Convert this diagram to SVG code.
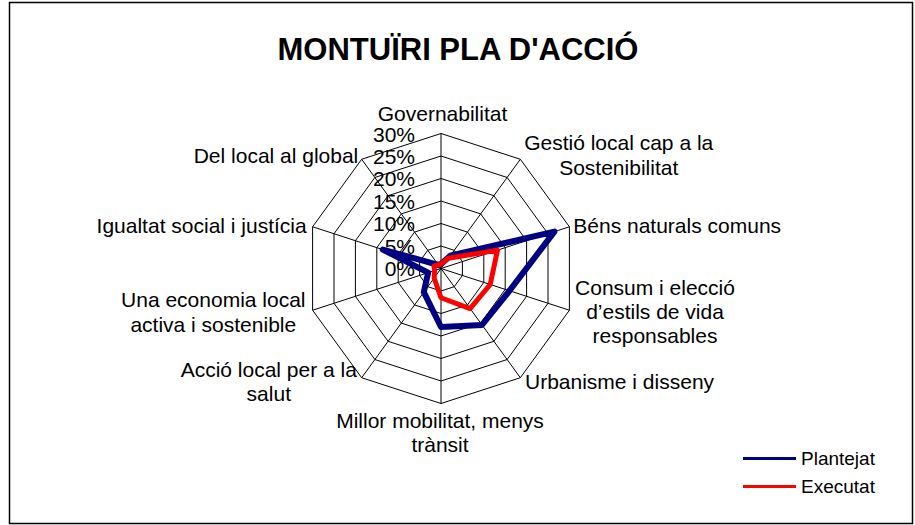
<svg xmlns="http://www.w3.org/2000/svg" width="915" height="525" viewBox="0 0 915 525">
<style>
text{font-family:"Liberation Sans",Arial,sans-serif;fill:#000}
.lbl{font-size:21px}
.pct{font-size:21px;text-anchor:end}
.mid{text-anchor:middle}
.end{text-anchor:end}
.grid{fill:none;stroke:#000;stroke-width:1}
.ser{fill:none;stroke-linejoin:round;stroke-linecap:round}
.leg{font-size:19px}
</style>
<rect x="9.5" y="2.5" width="903" height="521" fill="#fff" stroke="#000" stroke-width="1.5"/>
<text x="458" y="60" class="mid" style="font-size:31px;font-weight:bold">MONTUÏRI PLA D'ACCIÓ</text>
<g id="grid" class="grid">
<polygon points="441,246 454.23,250.3 462.4,261.55 462.4,275.45 454.23,286.7 441,291 427.78,286.7 419.6,275.45 419.6,261.55 427.78,250.3"/>
<polygon points="441,223.5 467.45,232.09 483.8,254.59 483.8,282.41 467.45,304.91 441,313.5 414.55,304.91 398.2,282.41 398.2,254.59 414.55,232.09"/>
<polygon points="441,201 480.68,213.89 505.2,247.64 505.2,289.36 480.68,323.11 441,336 401.32,323.11 376.8,289.36 376.8,247.64 401.32,213.89"/>
<polygon points="441,178.5 493.9,195.69 526.6,240.69 526.6,296.31 493.9,341.31 441,358.5 388.1,341.31 355.4,296.31 355.4,240.69 388.1,195.69"/>
<polygon points="441,156 507.13,177.48 548,233.73 548,303.27 507.13,359.52 441,381 374.87,359.52 334,303.27 334,233.73 374.87,177.48"/>
<polygon points="441,133.5 520.35,159.28 569.4,226.78 569.4,310.22 520.35,377.72 441,403.5 361.65,377.72 312.6,310.22 312.6,226.78 361.65,159.28"/>
<path d="M441,268.5L441,133.5M441,268.5L520.35,159.28M441,268.5L569.4,226.78M441,268.5L569.4,310.22M441,268.5L520.35,377.72M441,268.5L441,403.5M441,268.5L361.65,377.72M441,268.5L312.6,310.22M441,268.5L312.6,226.78M441,268.5L361.65,159.28"/>
</g>
<g id="axis-values">
<text x="415" y="276" class="pct">0%</text>
<text x="415" y="253.5" class="pct">5%</text>
<text x="415" y="231" class="pct">10%</text>
<text x="415" y="208.5" class="pct">15%</text>
<text x="415" y="186" class="pct">20%</text>
<text x="415" y="163.5" class="pct">25%</text>
<text x="415" y="142" class="pct">30%</text>
</g>
<g id="series">
<polygon id="plantejat" class="ser" stroke="#000080" stroke-width="6" points="441,264 450.26,255.76 554.42,231.65 509.48,290.75 482,324.93 441,327 423.81,292.16 428.16,272.67 382.79,249.59 438.35,264.86"/>
<polygon id="executat" class="ser" stroke="#ff0000" stroke-width="5" points="441,264 448.41,258.31 497.49,250.15 490.22,284.49 470.1,308.55 441,297.75 434.12,277.97 434.58,270.59 434,266.2 438.35,264.86"/>
</g>
<g id="axis-labels" class="lbl">
<text x="442.5" y="120.5" class="lbl mid">Governabilitat</text>
<text x="618.7" y="150" class="lbl mid">Gestió local cap a la</text>
<text x="618.7" y="175" class="lbl mid">Sostenibilitat</text>
<text x="573.3" y="233.3" class="lbl">Béns naturals comuns</text>
<text x="655" y="295" class="lbl mid">Consum i elecció</text>
<text x="655" y="319" class="lbl mid">d’estils de vida</text>
<text x="655" y="343.3" class="lbl mid">responsables</text>
<text x="525" y="389" class="lbl">Urbanisme i disseny</text>
<text x="440" y="428.3" class="lbl mid">Millor mobilitat, menys</text>
<text x="440" y="452.3" class="lbl mid">trànsit</text>
<text x="268.8" y="376.7" class="lbl mid">Acció local per a la</text>
<text x="268.8" y="400.7" class="lbl mid">salut</text>
<text x="213.3" y="306.7" class="lbl mid">Una economia local</text>
<text x="213.3" y="331.7" class="lbl mid">activa i sostenible</text>
<text x="306.7" y="233.3" class="lbl end">Igualtat social i justícia</text>
<text x="358.3" y="163.3" class="lbl end">Del local al global</text>
</g>
<g id="legend">
<line x1="743" y1="458.5" x2="796" y2="458.5" stroke="#000080" stroke-width="3"/>
<text x="801" y="465" class="leg">Plantejat</text>
<line x1="743" y1="486.5" x2="796" y2="486.5" stroke="#ff0000" stroke-width="3"/>
<text x="801" y="492.7" class="leg">Executat</text>
</g>
</svg>
